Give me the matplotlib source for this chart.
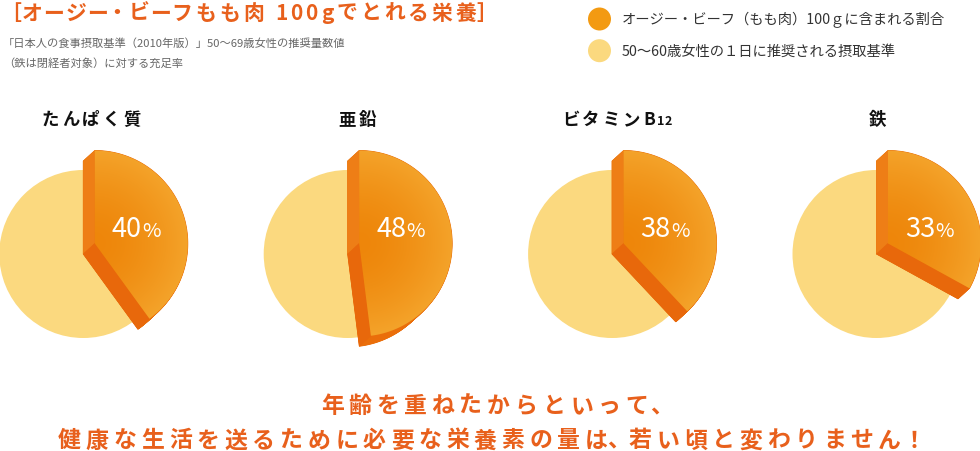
import numpy as np
import matplotlib
matplotlib.use('Agg')
import matplotlib.pyplot as plt
from matplotlib.patches import Polygon, Circle
from matplotlib import font_manager
from matplotlib.ft2font import FT2Font

plt.rcParams['font.family'] = ['Noto Sans CJK JP', 'DejaVu Sans']

# ---------------- data ----------------
title = '［オージー・ビーフもも肉 100gでとれる栄養］'
subtitle = ['「日本人の食事摂取基準（2010年版）」50〜69歳女性の推奨量数値',
            '（鉄は閉経者対象）に対する充足率']
legend_labels = ['オージー・ビーフ（もも肉）100ｇに含まれる割合',
                 '50〜60歳女性の１日に推奨される摂取基準']
nutrients = ['たんぱく質', '亜鉛', 'ビタミンB', '鉄']
nutrient_sub = ['', '', '12', '']
percent = [40, 48, 38, 33]
message = ['年齢を重ねたからといって、',
           '健康な生活を送るために必要な栄養素の量は、若い頃と変わりません！']

# ---------------- style / layout ----------------
W, H = 980, 452
ORANGE_TXT = '#E8601C'
LIGHT = '#FBD97F'
LEG_ORANGE = '#F39A12'
FACE_DARK = np.array([238, 134, 10]) / 255
FACE_LIGHT = np.array([244, 163, 42]) / 255
START_FACE = '#EE7E16'
END_FACE = '#E8680B'
ARC_FACE = '#EA6E0A'

pie_cx0, pie_dx, pie_cy = 83.3, 264.4, 255.0
r_light, r_front = 84.0, 93.0
off_x, off_y = 11.5, -10.5
title_x = [91, 357.5, 617, 878]

fig = plt.figure(figsize=(9.8, 4.52), dpi=100)
ax = fig.add_axes([0, 0, 1, 1])
ax.set_xlim(0, W)
ax.set_ylim(H, 0)
ax.axis('off')

try:
    from matplotlib.ft2font import LoadFlags
    NOHINT = LoadFlags.NO_HINTING
except Exception:
    NOHINT = 2

_ft = {}


def advances(s, size_pt, weight):
    px = size_pt * 100 / 72
    try:
        fp = font_manager.FontProperties(family='Noto Sans CJK JP', weight=weight)
        path = font_manager.findfont(fp)
        if path not in _ft:
            _ft[path] = FT2Font(path, hinting_factor=1)
        ft = _ft[path]
        ft.set_size(size_pt, 100)
        out = []
        for c in s:
            g = ft.load_char(ord(c), flags=NOHINT)
            out.append(g.linearHoriAdvance / 65536)
        return out
    except Exception:
        return [px if ord(c) > 0x2000 else px * 0.55 for c in s]


def spaced(x, y, s, size, spacing=0.0, ha='left', weight='normal', color='k',
           narrow=None):
    adv = advances(s, size, weight)
    narrow = narrow or {}
    adv = [a * narrow.get(c, 1.0) for a, c in zip(adv, s)]
    total = sum(adv) + spacing * (len(s) - 1)
    if ha == 'center':
        x0 = x - total / 2
    elif ha == 'right':
        x0 = x - total
    else:
        x0 = x
    for c, a in zip(s, adv):
        if c != ' ':
            ax.text(x0 + a / 2, y, c, ha='center', va='baseline', fontsize=size,
                    fontweight=weight, color=color)
        x0 += a + spacing
    return x0


def pt(cx, cy, r, ang):
    # ang: degrees clockwise from 12 o'clock, image coords (y down)
    a = np.deg2rad(ang)
    return np.array([cx + r * np.sin(a), cy - r * np.cos(a)])


def wedge_poly(cx, cy, r, a0, a1, n=120):
    angs = np.linspace(a0, a1, n)
    pts = [np.array([cx, cy])] + [pt(cx, cy, r, a) for a in angs]
    return np.array(pts)


# ---------------- header ----------------
spaced(3, 19.5, title, 15, spacing=3.0, weight='bold', color=ORANGE_TXT,
       narrow={'ー': 0.8, '・': 0.8, '［': 0.75, '］': 0.75})
ax.text(3, 43.5, subtitle[0], fontsize=8.1, color='#666666', ha='left', va='center')
ax.text(3, 63, subtitle[1], fontsize=8.1, color='#666666', ha='left', va='center')

leg_cols = [LEG_ORANGE, LIGHT]
leg_y = [20, 51.7]
for lab, col, ly in zip(legend_labels, leg_cols, leg_y):
    ax.add_patch(Circle((599.5, ly), 11.5, color=col, lw=0))
    ax.text(621.5, ly, lab, fontsize=10.3, color='#333333', ha='left', va='center')

# ---------------- pies ----------------
for i, (name, sub, p) in enumerate(zip(nutrients, nutrient_sub, percent)):
    cx = pie_cx0 + i * pie_dx
    cy = pie_cy
    fx, fy = cx + off_x, cy + off_y
    end = 360.0 * p / 100.0

    # background (recommended amount)
    ax.add_patch(Circle((cx, cy), r_light, color=LIGHT, lw=0, zorder=1))

    # extruded body
    back = wedge_poly(cx, cy, r_front, 0, end)
    for t in np.linspace(0, 1, 24):
        ax.add_patch(Polygon(back + np.array([off_x * t, off_y * t]), closed=True,
                             color=ARC_FACE, lw=0.6, zorder=2))
    # side faces
    bs, be = pt(cx, cy, r_front, 0), pt(cx, cy, r_front, end)
    fs, fe = pt(fx, fy, r_front, 0), pt(fx, fy, r_front, end)
    ax.add_patch(Polygon([[cx, cy], bs, fs, [fx, fy]], closed=True,
                         color=START_FACE, lw=0.5, zorder=3))
    ax.add_patch(Polygon([[cx, cy], be, fe, [fx, fy]], closed=True,
                         color=END_FACE, lw=0.5, zorder=3))

    # front face with soft radial gradient
    front = wedge_poly(fx, fy, r_front, 0, end)
    fpatch = Polygon(front, closed=True, facecolor='none', edgecolor='none', zorder=4)
    ax.add_patch(fpatch)
    x0, x1 = fx - r_front - 2, fx + r_front + 2
    y0, y1 = fy - r_front - 2, fy + r_front + 2
    gx, gy = np.meshgrid(np.linspace(x0, x1, 200), np.linspace(y0, y1, 200))
    d = np.clip(np.hypot(gx - fx, gy - fy) / r_front, 0, 1)
    tt = (d ** 1.6)[..., None]
    img = FACE_DARK * (1 - tt) + FACE_LIGHT * tt
    im = ax.imshow(img, extent=(x0, x1, y1, y0), origin='upper', aspect='auto',
                   zorder=4, interpolation='bilinear')
    im.set_clip_path(fpatch)

    # percentage
    ax.text(cx + 58.5, cy - 18, f'{p}', fontsize=19.5, color='white',
            ha='right', va='baseline', zorder=6)
    ax.text(cx + 59, cy - 18, '%', fontsize=14.5, color='white',
            ha='left', va='baseline', zorder=6)

    # nutrient title
    if sub:
        w_main = sum(advances(name, 12.5, 'bold')) + 3 * (len(name) - 1)
        w_sub = sum(advances(sub, 9, 'bold'))
        total = w_main + 2 + w_sub
        xs = title_x[i] - total / 2
        xe = spaced(xs, 125, name, 12.5, spacing=3, ha='left', weight='bold', color='#111111')
        spaced(xe - 1, 125, sub, 9, spacing=0, ha='left', weight='bold', color='#111111')
    else:
        spaced(title_x[i], 125, name, 12.5, spacing=3, ha='center', weight='bold',
               color='#111111')

# ---------------- message ----------------
spaced(495, 413, message[0], 16.5, spacing=4.8, ha='center', weight='bold',
       color=ORANGE_TXT, narrow={'、': 0.7})
spaced(490, 447.5, message[1], 16.5, spacing=4.8, ha='center', weight='bold',
       color=ORANGE_TXT, narrow={'、': 0.5, '！': 0.7})

ax.set_xlim(0, W)
ax.set_ylim(H, 0)
fig.savefig('out.png', dpi=100, facecolor='white')
